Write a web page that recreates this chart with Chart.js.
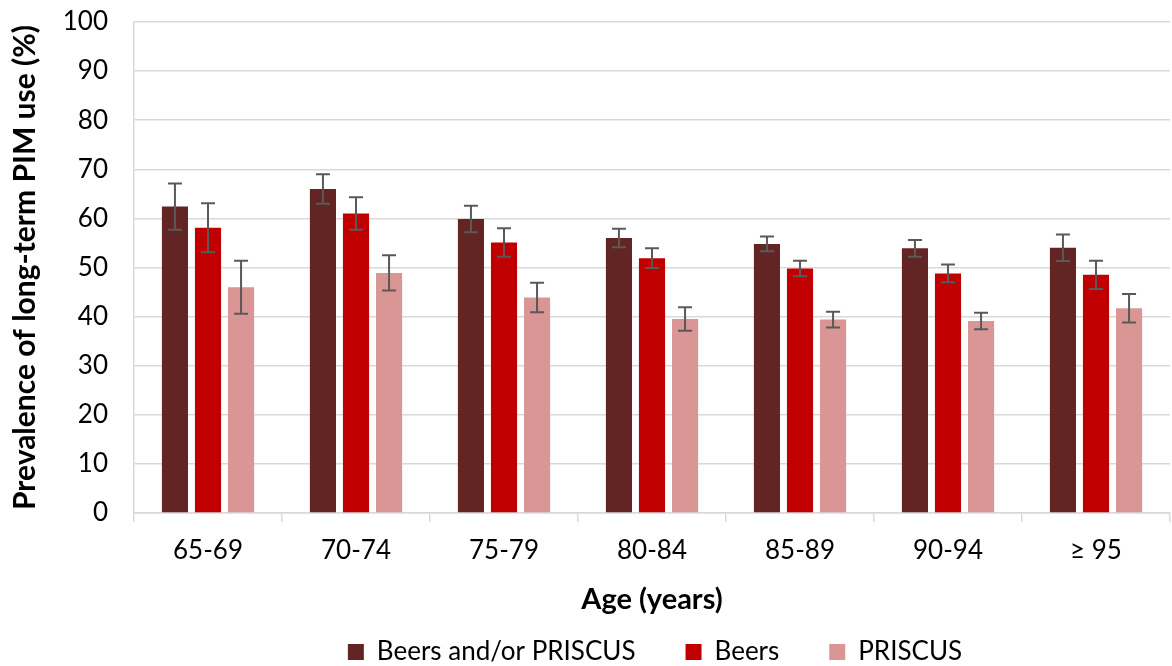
<!DOCTYPE html>
<html>
<head>
<meta charset="utf-8">
<script src="https://cdn.jsdelivr.net/npm/chart.js@4"></script>
<style>
  html, body { margin: 0; padding: 0; background: #fff; }
  #wrap { width: 1172px; height: 666px; }
</style>
</head>
<body>
<div id="wrap"><canvas id="pimChart"></canvas></div>
<script>
// age groups and prevalence (%)
const ageGroups = ['65-69', '70-74', '75-79', '80-84', '85-89', '90-94', '≥ 95'];

const beersOrPriscus = [62.4, 66.0, 59.9, 56.0, 54.8, 53.9, 54.0];
const beers          = [58.1, 61.0, 55.1, 51.9, 49.8, 48.8, 48.5];
const priscus        = [46.0, 48.9, 43.9, 39.5, 39.4, 39.1, 41.7];

// half-width of the error bars
const errBeersOrPriscus = [4.7, 3.0, 2.7, 1.9, 1.5, 1.7, 2.7];
const errBeers          = [5.0, 3.3, 2.9, 2.0, 1.6, 1.8, 2.9];
const errPriscus        = [5.4, 3.6, 3.0, 2.4, 1.6, 1.7, 2.9];

const yTicks = [0, 10, 20, 30, 40, 50, 60, 70, 80, 90, 100];

const FONT = 'Lato, "Open Sans", sans-serif';

// draws the error whiskers on top of each bar
const errorBars = {
    id: 'errorBars',
    afterDatasetsDraw(chart) {
        const ctx = chart.ctx;
        const y = chart.scales.y;
        ctx.save();
        ctx.strokeStyle = '#595959';
        ctx.lineWidth = 2;
        chart.data.datasets.forEach((ds, i) => {
            const meta = chart.getDatasetMeta(i);
            if (meta.hidden) return;
            meta.data.forEach((bar, j) => {
                const v = ds.data[j], e = ds.errors[j];
                const top = y.getPixelForValue(v + e);
                const bot = y.getPixelForValue(v - e);
                const cap = 7;
                ctx.beginPath();
                ctx.moveTo(bar.x, top); ctx.lineTo(bar.x, bot);
                ctx.moveTo(bar.x - cap, top); ctx.lineTo(bar.x + cap, top);
                ctx.moveTo(bar.x - cap, bot); ctx.lineTo(bar.x + cap, bot);
                ctx.stroke();
            });
        });
        ctx.restore();
    }
};

// keep the legend short in the layout, then move its box to the bottom line
const legendPlace = {
    id: 'legendPlace',
    afterInit(chart) {
        const lg = chart.legend;
        const fit = lg.fit;
        lg.fit = function () {
            fit.call(this);
            this.height = 40;
        };
    },
    afterLayout(chart) {
        const lg = chart.legend;
        lg.top = 589;
        lg.bottom = chart.height;
        lg.height = lg.bottom - lg.top;
        // the original legend sits a little right of the centre
        lg.left += 70;
        lg.right += 70;
    }
};

new Chart(document.getElementById('pimChart'), {
    type: 'bar',
    data: {
        labels: ageGroups,
        datasets: [
            {
                label: 'Beers and/or PRISCUS',
                data: beersOrPriscus,
                errors: errBeersOrPriscus,
                backgroundColor: '#632523'
            },
            {
                label: 'Beers',
                data: beers,
                errors: errBeers,
                backgroundColor: '#C00000'
            },
            {
                label: 'PRISCUS',
                data: priscus,
                errors: errPriscus,
                backgroundColor: '#D99694'
            }
        ]
    },
    options: {
        responsive: true,
        maintainAspectRatio: false,
        animation: false,
        categoryPercentage: 0.67,
        barPercentage: 0.79,
        layout: { padding: { top: 0, right: 2, left: 0, bottom: 0 } },
        plugins: {
            legend: {
                position: 'bottom',
                labels: {
                    boxWidth: 16,
                    boxHeight: 16,
                    padding: 50,
                    color: '#000',
                    font: { family: FONT, size: 26 }
                }
            },
            tooltip: { enabled: false }
        },
        scales: {
            x: {
                afterFit(scale) { scale.height = 113; },
                grid: {
                    offset: true,
                    drawOnChartArea: false,
                    tickLength: 9,
                    color: '#d9d9d9',
                    lineWidth: 1.5
                },
                border: { color: '#d9d9d9', width: 1.5 },
                ticks: {
                    color: '#000',
                    padding: 13,
                    font: { family: FONT, size: 26 }
                },
                title: {
                    display: true,
                    text: 'Age (years)',
                    color: '#000',
                    padding: { top: 0, bottom: 9 },
                    font: { family: FONT, size: 29, weight: 'bold' }
                }
            },
            y: {
                min: 0,
                max: 100,
                afterBuildTicks(scale) {
                    scale.ticks = yTicks.map(v => ({ value: v }));
                },
                afterFit(scale) {
                    scale.width = 134;
                    scale.paddingTop = 22;
                    scale.paddingBottom = 0;
                },
                grid: {
                    drawTicks: false,
                    color: '#d9d9d9',
                    lineWidth: 1.5
                },
                border: { color: '#d9d9d9', width: 1.5 },
                ticks: {
                    color: '#000',
                    padding: 26,
                    font: { family: FONT, size: 26 }
                },
                title: {
                    display: true,
                    text: 'Prevalence of long-term PIM use (%)',
                    color: '#000',
                    padding: { top: 7, bottom: 0 },
                    font: { family: FONT, size: 30, weight: 'bold' }
                }
            }
        }
    },
    plugins: [errorBars, legendPlace]
});
</script>
</body>
</html>
